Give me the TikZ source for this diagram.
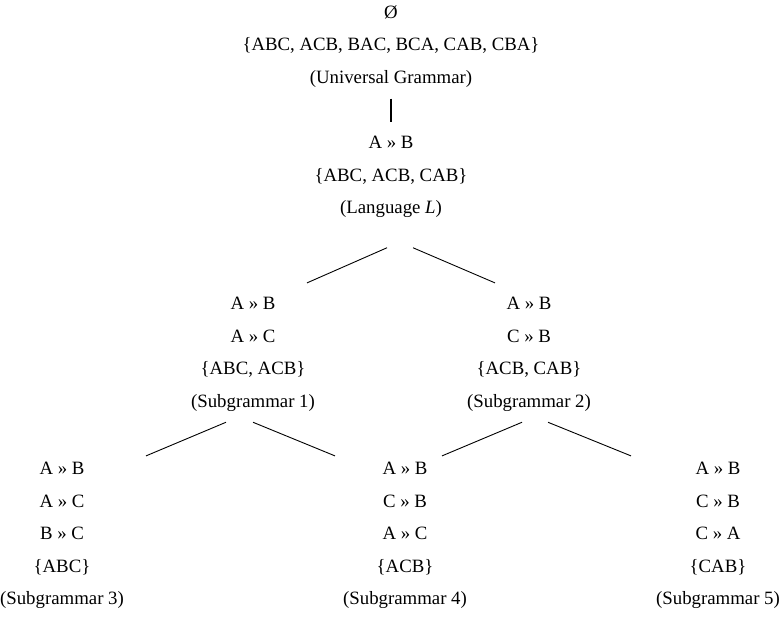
\documentclass[tikz,border=0pt]{standalone}
\usepackage{fontspec}
\setmainfont{Liberation Serif}
\usetikzlibrary{calc}

\begin{document}
\begin{tikzpicture}[
  x=1pt, y=-1pt,
  font=\fontsize{18.8}{32.5}\selectfont,
  grammar/.style={align=center, inner sep=0pt, anchor=base},
  branch/.style={line width=0.9pt, draw=black},
  stem/.style={line width=1.6pt, draw=black},
]
\useasboundingbox (0,0) rectangle (781,623);

% ---- root and the language (nodes sit on the baseline of their last line) --
\node[grammar] (ug) at (391,83.5)
  {Ø\\ \{ABC, ACB, BAC, BCA, CAB, CBA\}\\ (Universal Grammar)};
\node[grammar] (lang) at (391,213.5)
  {A » B\\ \{ABC, ACB, CAB\}\\ (Language \textit{L})};

\draw[stem] ($(ug.south)+(0,11)$) -- ($(lang.north)+(0,-14)$);

% ---- first split ----------------------------------------------------------
\node[grammar] (sub1) at (253,407)
  {A » B\\ A » C\\ \{ABC, ACB\}\\ (Subgrammar 1)};
\node[grammar] (sub2) at (529,407)
  {A » B\\ C » B\\ \{ACB, CAB\}\\ (Subgrammar 2)};

\draw[branch] ($(lang.south)+(-4,30)$) -- ($(sub1.north)+(54,-14)$);
\draw[branch] ($(lang.south)+(22,30)$) -- ($(sub2.north)+(-34,-14)$);

% ---- second split ---------------------------------------------------------
\node[grammar] (sub3) at (62,604.5)
  {A » B\\ A » C\\ B » C\\ \{ABC\}\\ (Subgrammar 3)};
\node[grammar] (sub4) at (405,604.5)
  {A » B\\ C » B\\ A » C\\ \{ACB\}\\ (Subgrammar 4)};
\node[grammar] (sub5) at (718,604.5)
  {A » B\\ C » B\\ C » A\\ \{CAB\}\\ (Subgrammar 5)};

\draw[branch] ($(sub1.south)+(-27,11)$) -- ($(sub3.north)+(84,-6)$);
\draw[branch] ($(sub1.south)+(0,11)$) -- ($(sub4.north)+(-70,-6)$);
\draw[branch] ($(sub2.south)+(-7,11)$) -- ($(sub4.north)+(37,-6)$);
\draw[branch] ($(sub2.south)+(19,11)$) -- ($(sub5.north)+(-87,-6)$);

\end{tikzpicture}
\end{document}
